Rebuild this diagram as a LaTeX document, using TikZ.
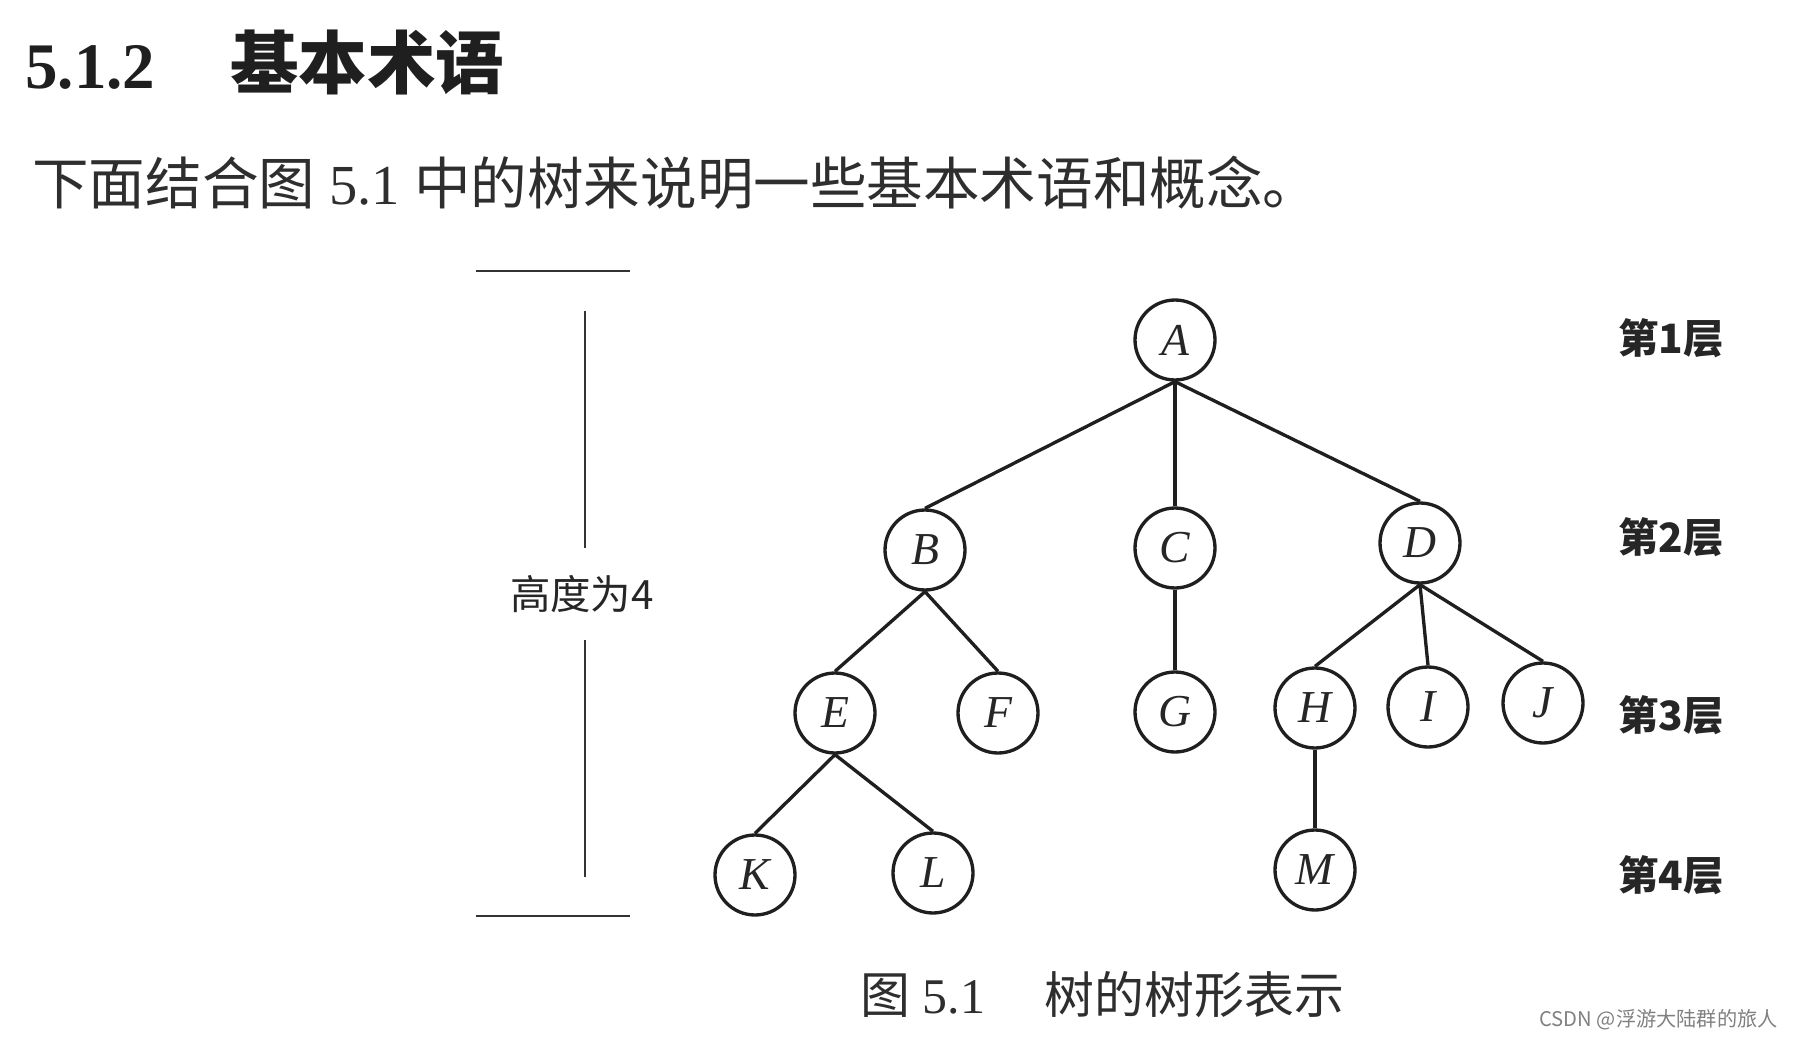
\documentclass[tikz,border=0pt]{standalone}
\usepackage{fontspec}
\setmainfont{Liberation Serif}
\newfontfamily\cjk{Noto Sans CJK SC}
\usetikzlibrary{positioning}

\begin{document}
\begin{tikzpicture}[
    x=0.02cm, y=-0.02cm,
    vertex/.style={draw=black!88, circle, line width=1.9pt, minimum size=1.6cm, inner sep=0pt,
                   font=\fontsize{26}{31}\selectfont\itshape, text=black!85},
    edge/.style={draw=black!88, line width=1.9pt},
    ruler/.style={draw=black!80, line width=1.3pt},
    levellabel/.style={inner sep=0pt, text=black!85, font=\cjk\fontsize{23}{28}\selectfont\bfseries},
    plaintext/.style={inner sep=0pt, anchor=west, text=black!82}
]
    \useasboundingbox (0,0) rectangle (1793,1041);

    % Heading and text
    \node [plaintext, text=black!88, font=\fontsize{37}{44}\selectfont\bfseries] (sec) at (25,62)
        {5.1.2\hspace{1.15em}{\cjk\fontsize{39}{46}\selectfont 基本术语}};
    \node [plaintext, font=\fontsize{32.2}{38}\selectfont] (intro) at (32,183)
        {{\cjk 下面结合图} 5.1 {\cjk 中的树来说明一些基本术语和概念。}};

    % Tree nodes
    \node [vertex] (A) at (1175,340) {A};
    \node [vertex] (B) at (925,550) {B};
    \node [vertex] (C) at (1175,548) {C};
    \node [vertex] (D) at (1420,543) {D};
    \node [vertex] (E) at (835,713) {E};
    \node [vertex] (F) at (998,713) {F};
    \node [vertex] (G) at (1175,712) {G};
    \node [vertex] (H) at (1315,708) {H};
    \node [vertex] (I) at (1428,707) {I};
    \node [vertex] (J) at (1543,703) {J};
    \node [vertex] (K) at (755,875) {K};
    \node [vertex] (L) at (933,873) {L};
    \node [vertex] (M) at (1315,870) {M};

    % Tree edges
    \foreach \p/\c in {A/B, A/C, A/D, B/E, B/F, C/G, D/H, D/I, D/J, E/K, E/L, H/M}
        \draw [edge] (\p.south) -- (\c.north);

    % Level labels
    \node [levellabel] (lv1) at (1671,338) {第1层};
    \node [levellabel] (lv2) at (1671,537) {第2层};
    \node [levellabel] (lv3) at (1671,715) {第3层};
    \node [levellabel] (lv4) at (1671,875) {第4层};

    % Height marker
    \node [inner sep=0pt, minimum height=1.84cm, text=black!85,
           font=\cjk\fontsize{23}{28}\selectfont] (hgt) at (582,594) {高度为4};
    \coordinate (htopl) at (476,271);
    \coordinate (htopr) at (630,271);
    \coordinate (hbotl) at (476,916);
    \coordinate (hbotr) at (630,916);
    \coordinate (vtop) at (585,311);
    \coordinate (vbot) at (585,877);
    \draw [ruler] (htopl) -- (htopr);
    \draw [ruler] (hbotl) -- (hbotr);
    \draw [ruler] (vtop) -- (vtop |- hgt.north);
    \draw [ruler] (vbot) -- (vbot |- hgt.south);

    % Caption
    \node [plaintext, font=\fontsize{28.4}{34}\selectfont] (cap) at (860,995)
        {{\cjk 图} 5.1\hspace{1.2em}{\cjk 树的树形表示}};
    \node [inner sep=0pt, anchor=east, text=black!50,
           font=\cjk\fontsize{11.5}{14}\selectfont] (mark) at (1778,1020) {CSDN @浮游大陆群的旅人};
\end{tikzpicture}
\end{document}
